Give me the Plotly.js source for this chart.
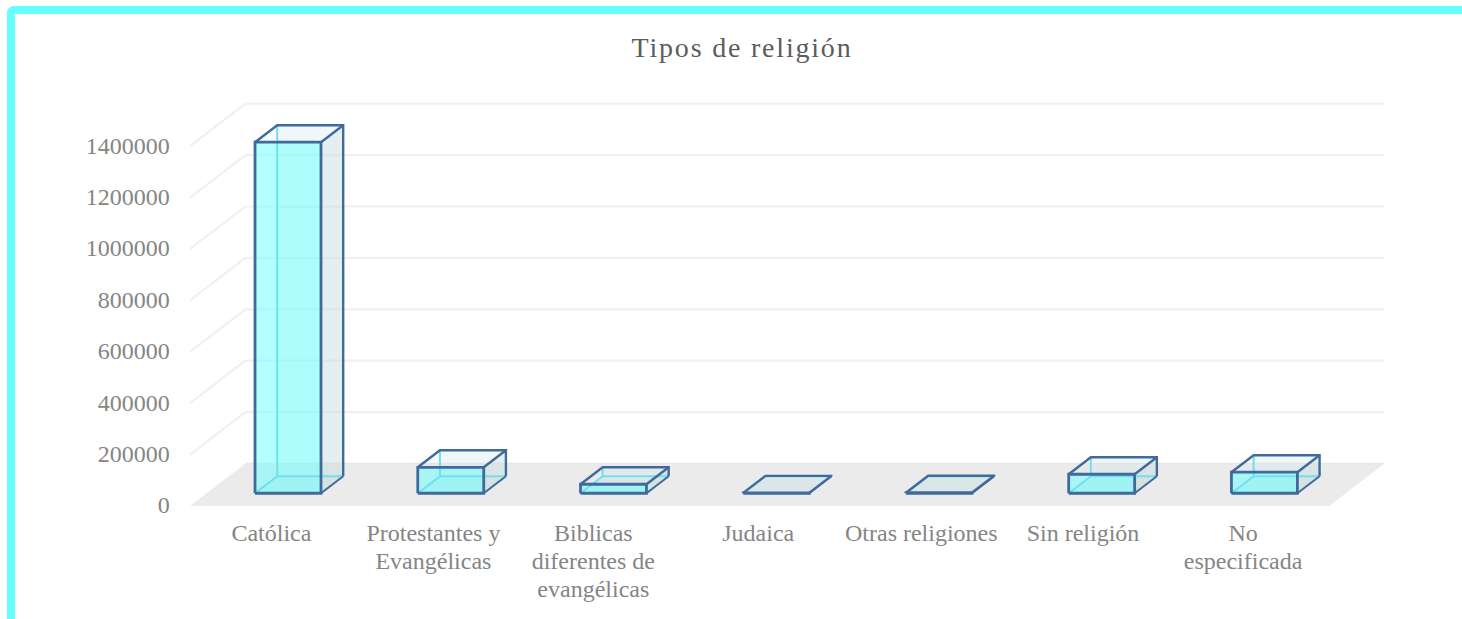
<!DOCTYPE html>
<html><head><meta charset="utf-8">
<script src="https://cdn.plot.ly/plotly-3.0.1.min.js"></script>
<style>
html,body{margin:0;padding:0;background:#fff;overflow:hidden}
#chart{position:absolute;left:0;top:0;width:1462px;height:619px}
#frame{position:absolute;left:7px;top:6px;right:0;bottom:0;border-left:8px solid #66FFFF;border-top:8px solid #66FFFF;border-top-left-radius:7px;pointer-events:none}
.gtitle{letter-spacing:1.8px}
</style></head><body>
<div id="chart"></div><div id="frame"></div>
<script>
const categories = ["Católica","Protestantes y<br>Evangélicas","Biblicas<br>diferentes de<br>evangélicas","Judaica","Otras religiones","Sin religión","No<br>especificada"];
const values = [1366000, 101000, 35000, 1500, 2000, 74000, 82000];
const yTicks = [0,200000,400000,600000,800000,1000000,1200000,1400000];

// oblique projection of the Excel-style 3D floor, expressed in axis units
const unitsPerPx = 1400000/359.8, catPx = 162.8;
const depthX = 55.5/catPx, depthY = 42.5*unitsPerPx;
const barHalf = 33/catPx, t0 = 0.30, t1 = 0.70;
const P = (x,v,t)=>[x+t*depthX, v+t*depthY];
const poly = pts => ({x:pts.map(p=>p[0]), y:pts.map(p=>p[1])});
const traces = [];
const add = (pts,fill,line,width)=>{
  const c = poly(pts);
  traces.push({type:'scatter',mode:(line?'lines':'none'),x:c.x,y:c.y,fill:fill?'toself':'none',fillcolor:fill||undefined,
    line:{color:line||'rgba(0,0,0,0)',width:width||0,simplify:false},hoverinfo:'skip',showlegend:false,cliponaxis:false});
};
const xL=-0.5, xR=6.5;
// floor
add([P(xL,0,0),P(xR,0,0),P(xR,0,1),P(xL,0,1),P(xL,0,0)],'#ebebeb');
// wall gridlines
yTicks.forEach(v=>{ if(v>0) add([P(xL,v,0),P(xL,v,1),P(xR,v,1)],null,'#f0f0f0',2.2); });
add([P(xL,0,1),P(xR,0,1)],null,'#e6e6e6',1.5);

const edge='#3f6a9c', inner='#72dff0', frontFill='rgba(102,255,255,0.5)', sideFill='rgba(200,220,220,0.36)', backFill='rgba(205,228,230,0.2)';
values.forEach((val,i)=>{
  const a=i-barHalf,b=i+barHalf;
  const f=(x,v)=>P(x,v,t0), k=(x,v)=>P(x,v,t1);
  // back, floor, right and top faces
  add([k(a,0),k(b,0),k(b,val),k(a,val),k(a,0)],backFill);
  add([f(a,0),f(b,0),k(b,0),k(a,0),f(a,0)],'rgba(200,225,225,0.45)');
  add([f(b,0),k(b,0),k(b,val),f(b,val),f(b,0)],sideFill);
  add([f(a,val),f(b,val),k(b,val),k(a,val),f(a,val)],'rgba(215,235,238,0.18)');
  // front face
  add([f(a,0),f(b,0),f(b,val),f(a,val),f(a,0)],frontFill);
  // hidden edges seen through the front face
  add([f(a,0),k(a,0),k(a,val)],null,inner,2);
  add([k(a,0),k(b,0)],null,inner,2);
  // outlines
  add([k(b,0),k(b,val),k(a,val),f(a,val)],null,edge,2.4);
  add([f(b,val),k(b,val)],null,edge,2.4);
  add([f(b,0),k(b,0)],null,edge,2);
  add([f(a,0),f(b,0),f(b,val),f(a,val),f(a,0)],null,edge,2.8);
});

const plotL=189.5, plotR=1390, plotT=92, plotB=506;
const labelNudgePx=[0,-0.7,-3.5,-1.3,-1,-2,-4.7];
const layout={
  width:1462,height:619,paper_bgcolor:'#fff',plot_bgcolor:'rgba(0,0,0,0)',showlegend:false,
  margin:{l:plotL,r:1462-plotR,t:plotT,b:619-plotB,pad:0},
  title:{text:'Tipos de religión',font:{family:'Liberation Serif',size:28,color:'#5c5c5c'},x:742/1462,xanchor:'center',y:1-47.5/619,yanchor:'middle'},
  xaxis:{range:[xL,xL+(plotR-plotL)/catPx],tickmode:'array',tickvals:categories.map((c,i)=>i+labelNudgePx[i]/catPx),ticktext:categories,
    showgrid:false,zeroline:false,showline:false,ticks:'outside',ticklen:5,tickcolor:'rgba(0,0,0,0)',tickangle:0,
    tickfont:{family:'Liberation Serif',size:24,color:'#858585'},fixedrange:true},
  yaxis:{range:[0,(plotB-plotT)*unitsPerPx],tickmode:'array',tickvals:yTicks,ticktext:yTicks.map(String),
    showgrid:false,zeroline:false,showline:false,ticks:'outside',ticklen:14.5,tickcolor:'rgba(0,0,0,0)',
    tickfont:{family:'Liberation Serif',size:24,color:'#858585'},fixedrange:true}
};
Plotly.newPlot('chart',traces,layout,{displayModeBar:false,staticPlot:true}).then(gd=>{
  // tighter line spacing of the multi-line category labels (28px)
  gd.querySelectorAll('.xtick tspan.line').forEach(t=>{
    const n=parseFloat(t.getAttribute('dy'))||0;
    t.setAttribute('dy',(n*28/31.2)+'em');
  });
  gd.querySelectorAll('.ytick text').forEach(t=>{
    t.setAttribute('y',parseFloat(t.getAttribute('y'))-1);
  });
});
</script></body></html>
